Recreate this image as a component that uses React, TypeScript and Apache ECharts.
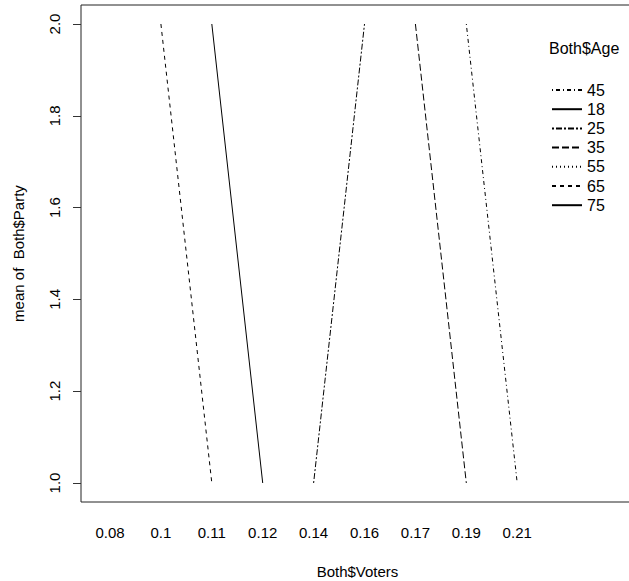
import React, { useEffect, useRef } from "react";
import * as echarts from "echarts";

const voters = ["0.08", "0.1", "0.11", "0.12", "0.14", "0.16", "0.17", "0.19", "0.21"];
const ages = ["45", "18", "25", "35", "55", "65", "75"];
const party45 = [null, null, null, null, null, null, null, 2, 1];
const party18 = [null, null, 2, 1, null, null, null, null, null];
const party25 = [null, null, null, null, 1, 2, null, null, null];
const party35 = [null, null, null, null, null, null, 2, 1, null];
const party55 = [null, null, null, null, null, null, null, null, null];
const party65 = [null, 2, 1, null, null, null, null, null, null];
const party75 = [2, null, null, null, null, null, null, null, null];
const yTicks = [1.0, 1.2, 1.4, 1.6, 1.8, 2.0];

const seriesValues = [party45, party18, party25, party35, party55, party65, party75];
const dashes: (number[] | string)[] = [
  [1, 3, 4, 3],
  "solid",
  [2, 2, 6, 2],
  [7, 3],
  [1, 3],
  [4, 4],
  "solid",
];

const FONT = "Liberation Sans";
// x scale: voter levels one unit apart, the first LEAD units in from the plot's left edge
const LEAD = 0.57;
const Y_MIN = 0.9586;
const Y_MAX = 2.0414;

export default function App() {
  const ref = useRef<HTMLDivElement>(null);
  useEffect(() => {
    if (!ref.current) return;
    const chart = echarts.init(ref.current, undefined, { renderer: "svg" });
    const step = 50.9;
    const xMax = 553 / step;
    // second (invisible) grid spanning exactly the tick range 1.0..2.0, used for the y ticks
    const plotTop = 5;
    const plotH = 497;
    const pxPerUnit = plotH / (Y_MAX - Y_MIN);
    const tickTop = plotTop + (Y_MAX - yTicks[yTicks.length - 1]) * pxPerUnit;
    const tickH = (yTicks[yTicks.length - 1] - yTicks[0]) * pxPerUnit;
    chart.setOption({
      animation: false,
      backgroundColor: "#ffffff",
      textStyle: { fontFamily: FONT },
      grid: [
        {
          left: 81,
          top: plotTop,
          width: 553,
          height: plotH,
          show: true,
          borderColor: "#222",
          borderWidth: 1,
          backgroundColor: "transparent",
          containLabel: false,
          outerBoundsMode: "none",
        },
        {
          left: 81,
          top: tickTop,
          width: 553,
          height: tickH,
          show: false,
          containLabel: false,
          outerBoundsMode: "none",
        },
      ],
      xAxis: [
        {
          type: "value",
          gridIndex: 0,
          min: 0,
          max: xMax,
          name: "Both$Voters",
          nameLocation: "middle",
          nameGap: 62,
          nameTextStyle: { fontSize: 15, color: "#000", fontFamily: FONT },
          axisLine: { show: false, onZero: false },
          axisTick: { show: false },
          splitLine: { show: false },
          axisLabel: {
            customValues: voters.map((_, i) => i + LEAD),
            formatter: (v: number) => voters[Math.round(v - LEAD)] ?? "",
            fontSize: 15,
            color: "#000",
            fontFamily: FONT,
            margin: 23,
          },
        },
        {
          type: "value",
          gridIndex: 1,
          min: 0,
          max: 1,
          show: false,
        },
      ],
      yAxis: [
        {
          type: "value",
          gridIndex: 0,
          min: Y_MIN,
          max: Y_MAX,
          name: "mean of  Both$Party",
          nameLocation: "middle",
          nameGap: 55,
          nameTextStyle: { fontSize: 15, color: "#000", fontFamily: FONT },
          axisLine: { show: false, onZero: false },
          splitLine: { show: false },
          axisTick: { show: false },
          axisLabel: {
            customValues: yTicks,
            rotate: 90,
            formatter: (v: number) => v.toFixed(1),
            fontSize: 15,
            color: "#000",
            fontFamily: FONT,
            margin: 19,
          },
        },
        {
          type: "value",
          gridIndex: 1,
          min: yTicks[0],
          max: yTicks[yTicks.length - 1],
          interval: 0.2,
          position: "left",
          axisLine: { show: false, onZero: false },
          axisLabel: { show: false },
          splitLine: { show: false },
          axisTick: {
            show: true,
            inside: false,
            length: 8,
            lineStyle: { color: "#333", width: 1 },
          },
        },
      ],
      legend: {
        data: ages,
        orient: "vertical",
        left: 551,
        top: 82,
        padding: 0,
        itemWidth: 30,
        itemHeight: 14,
        itemGap: 3.2,
        itemTextGap: 13,
        itemStyle: { opacity: 0 },
        textStyle: { fontSize: 16, color: "#000", fontFamily: FONT },
        inactiveColor: "#000",
      },
      graphic: [
        {
          type: "text",
          left: 549,
          top: 40,
          style: { text: "Both$Age", fontSize: 16, fontFamily: FONT, fill: "#000" },
        },
      ],
      series: ages.map((a, k) => ({
        name: a,
        type: "line",
        xAxisIndex: 0,
        yAxisIndex: 0,
        symbol: "none",
        color: "#000",
        connectNulls: false,
        lineStyle: { color: "#000", width: 1, type: dashes[k] },
        data: seriesValues[k].map((v, i) => [i + LEAD, v == null ? "-" : v]),
      })),
    });
    return () => chart.dispose();
  }, []);
  return (
    <div
      ref={ref}
      style={{ position: "fixed", left: 0, top: 0, width: 629, height: 581, background: "#fff" }}
    />
  );
}
